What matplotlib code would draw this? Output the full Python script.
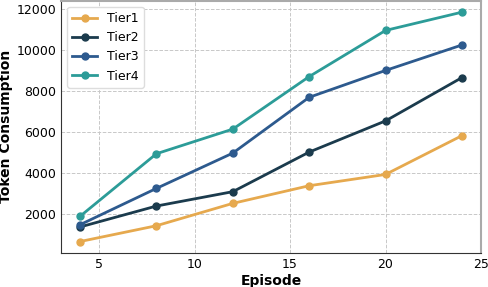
import matplotlib
matplotlib.use("Agg")
import matplotlib.pyplot as plt

episodes = [4, 8, 12, 16, 20, 24]
tier1 = [660, 1430, 2520, 3380, 3930, 5820]
tier2 = [1370, 2390, 3090, 5020, 6540, 8650]
tier3 = [1480, 3250, 4970, 7690, 9000, 10240]
tier4 = [1890, 4940, 6140, 8700, 10950, 11840]
series_names = ["Tier1", "Tier2", "Tier3", "Tier4"]
colors = ["#E6A94E", "#1B3B4D", "#2D5A8E", "#2C9C98"]

fig = plt.figure(figsize=(4.89, 2.87), dpi=100)
ax = fig.add_axes([0.1247, 0.1185, 0.8589, 0.879])

for name, vals, c in zip(series_names, [tier1, tier2, tier3, tier4], colors):
    ax.plot(episodes, vals, marker="o", color=c, linewidth=2, markersize=5, label=name)

ax.set_xlim(3, 25)
ax.set_xticks([5, 10, 15, 20, 25])
ax.set_yticks([2000, 4000, 6000, 8000, 10000, 12000])
ax.grid(True, linestyle="--", color="#c8c8c8", linewidth=0.7)
ax.set_axisbelow(True)
ax.tick_params(labelsize=9, length=0, pad=3.5)
ax.set_xlabel("Episode", fontsize=10, fontweight="bold", labelpad=2)
ax.set_ylabel("Token Consumption", fontsize=10, fontweight="bold", labelpad=2)
for s in ["left", "bottom"]:
    ax.spines[s].set_color("#333333")
for s in ["top", "right"]:
    ax.spines[s].set_color("#aaaaaa")
    ax.spines[s].set_linewidth(1.5)
ax.legend(loc="upper left", fontsize=9, framealpha=1, edgecolor="#dddddd")

fig.savefig("out.png", dpi=100)
